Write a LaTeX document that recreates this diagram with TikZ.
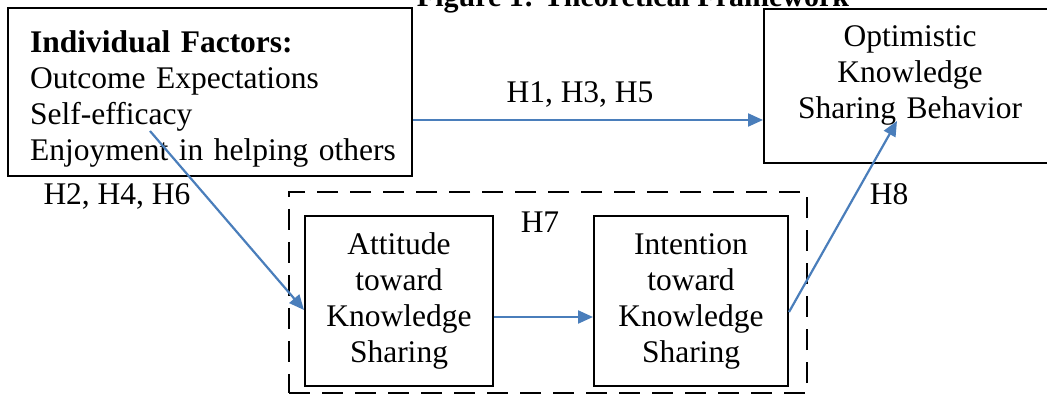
\documentclass[tikz,border=0pt]{standalone}
\usepackage{fontspec}
\setmainfont{Liberation Serif}
\usetikzlibrary{arrows.meta}
\definecolor{arrowblue}{HTML}{4A7EBB}
\tikzset{
  boxnode/.style={draw=black, line width=2pt, rectangle, inner sep=0pt},
  dashbox/.style={draw=black, line width=2pt, dash pattern=on 21pt off 12pt},
  txt/.style={inner sep=0pt, font=\fontsize{31.5}{36}\selectfont},
  lbl/.style={inner sep=0pt, font=\fontsize{31.5}{36}\selectfont, anchor=base},
  conn/.style={draw=arrowblue, line width=2.2pt, -{Triangle[length=15pt,width=13pt]}}
}
\begin{document}
\begin{tikzpicture}[x=1pt,y=-1pt]
\useasboundingbox (0,0) rectangle (1047,395);
\clip (0,0) rectangle (1047,395);
% title (cut off at top, as in the reference)
\node[inner sep=0pt, anchor=base, font=\fontsize{30}{36}\selectfont\bfseries] (title) at (633,7) {Figure 1: Theoretical Framework};
% boxes
\node[boxnode, minimum width=404pt, minimum height=168pt] (ind) at (210,92) {};
\node[boxnode, minimum width=296pt, minimum height=154pt] (opt) at (912,86) {};
\node[dashbox, minimum width=518pt, minimum height=201pt, inner sep=0pt] (grp) at (548,292.5) {};
\node[boxnode, minimum width=188pt, minimum height=170pt] (att) at (399,301) {};
\node[boxnode, minimum width=194pt, minimum height=170pt] (int) at (691,301) {};
% box texts
\node[txt, anchor=base west, text width=380pt, align=left] (indtxt) at (30,53)
  {\textbf{Individual Factors:}\\Outcome Expectations\\Self-efficacy\\Enjoyment in helping others};
\node[txt, anchor=base, text width=280pt, align=center] (opttxt) at (910,47)
  {Optimistic\\Knowledge\\Sharing Behavior};
\node[txt, anchor=base, text width=180pt, align=center] (atttxt) at (399,255)
  {Attitude\\toward\\Knowledge\\Sharing};
\node[txt, anchor=base, text width=190pt, align=center] (inttxt) at (691,255)
  {Intention\\toward\\Knowledge\\Sharing};
% labels
\node[lbl] (l1) at (580,103) {H1, H3, H5};
\node[lbl] (l2) at (117,205) {H2, H4, H6};
\node[lbl] (l7) at (540,233) {H7};
\node[lbl] (l8) at (889,205) {H8};
% connectors
\coordinate (h2s) at (150,131);
\coordinate (h8e) at (897,121);
\draw[conn] ([yshift=-28pt]ind.east) -- ([yshift=-34pt]opt.west);
\draw[conn] (h2s) -- ([yshift=-9pt]att.west);
\draw[conn] ([yshift=-16pt]att.east) -- ([yshift=-16pt]int.west);
\draw[conn] ([yshift=-11pt]int.east) -- (h8e);
\end{tikzpicture}
\end{document}
